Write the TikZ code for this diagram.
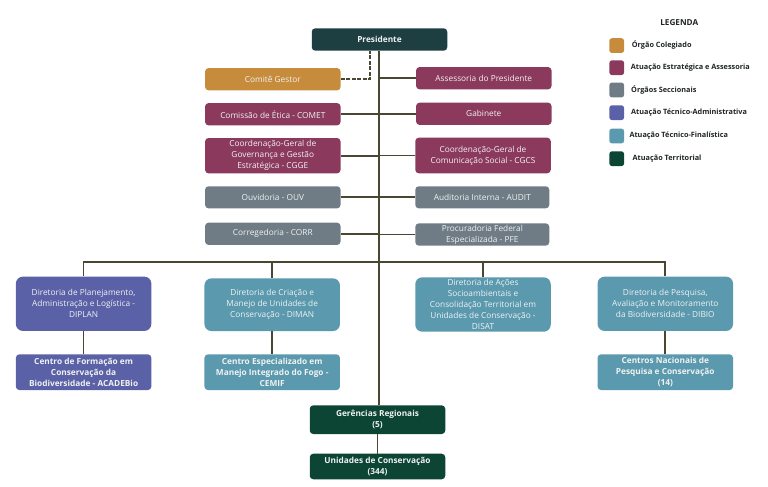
\documentclass[tikz,border=0pt]{standalone}
\usepackage{fontspec}
\setmainfont{Open Sans}
\definecolor{cpres}{HTML}{1E3F42}
\definecolor{cgold}{HTML}{C68C3B}
\definecolor{cwine}{HTML}{8B3A5D}
\definecolor{cgray}{HTML}{6F7C85}
\definecolor{cblue}{HTML}{5A61A6}
\definecolor{cteal}{HTML}{5B99AE}
\definecolor{cgreen}{HTML}{0C4534}
\definecolor{cline}{HTML}{4A4632}
\definecolor{ctext}{HTML}{F0F2F2}
\definecolor{clegend}{HTML}{1F2426}
\tikzset{
  orgbox/.style={rectangle,rounded corners=3.5,inner sep=0,minimum width=135.5,text=ctext,align=center,font=\fontsize{8.3}{11}\selectfont},
  orgbold/.style={orgbox,font=\fontsize{8.3}{11}\selectfont\bfseries},
  dirbox/.style={orgbox,rounded corners=7},
  link/.style={draw=cline,line width=1.7},
  swatch/.style={rectangle,rounded corners=2.5,inner sep=0,minimum size=14.7},
  legtext/.style={anchor=west,inner sep=0,text=clegend,font=\fontsize{7.3}{9}\selectfont\bfseries}
}
\begin{document}
\begin{tikzpicture}[x=1pt,y=-1pt]
\useasboundingbox (0,0) rectangle (768,487);

\node[orgbold,fill=cpres, minimum height=22.4] (presidente) at (379.5,39.5) {Presidente};

\node[orgbox,fill=cgold,  minimum height=22.3] (comite)     at (272.8,79.2) {Comitê Gestor};
\node[orgbox,fill=cwine,  minimum height=22.3] (assessoria) at (483.8,78.2) {Assessoria do Presidente};
\node[orgbox,fill=cwine,  minimum height=22.3] (comet)      at (272.8,114.2) {Comissão de Ética - COMET};
\node[orgbox,fill=cwine,  minimum height=22.3] (gabinete)   at (483.8,113.8) {Gabinete};
\node[orgbox,fill=cwine,  minimum height=35.4] (cgge)       at (272.8,155.7) {Coordenação-Geral de\\Governança e Gestão\\Estratégica - CGGE};
\node[orgbox,fill=cwine,  minimum height=35.6] (cgcs)       at (483,155.5) {Coordenação-Geral de\\Comunicação Social - CGCS};
\node[orgbox,fill=cgray,  minimum height=22.1] (ouv)        at (272.8,197.3) {Ouvidoria - OUV};
\node[orgbox,fill=cgray,  minimum height=22.1,minimum width=134] (audit) at (482.3,197.3) {Auditoria Interna - AUDIT};
\node[orgbox,fill=cgray,  minimum height=22.3] (corr)       at (272.8,233.8) {Corregedoria - CORR};
\node[orgbox,fill=cgray,  minimum height=22.3,minimum width=134] (pfe)   at (482.3,234.5) {Procuradoria Federal\\Especializada - PFE};

\node[dirbox,fill=cblue,  minimum height=54.3] (diplan)     at (83.6,303.8) {Diretoria de Planejamento,\\Administração e Logística -\\DIPLAN};
\node[dirbox,fill=cteal,  minimum height=52.7] (diman)      at (272.2,304.7) {Diretoria de Criação e\\Manejo de Unidades de\\Conservação - DIMAN};
\node[dirbox,fill=cteal,  minimum height=54.4] (disat)      at (483,304.5) {Diretoria de Ações\\Socioambientais e\\Consolidação Territorial em\\Unidades de Conservação -\\DISAT};
\node[dirbox,fill=cteal,  minimum height=54.3] (dibio)      at (665.3,303.8) {Diretoria de Pesquisa,\\Avaliação e Monitoramento\\da Biodiversidade - DIBIO};

\node[orgbold,fill=cblue, minimum height=35.7] (acadebio)   at (83.6,372.2) {Centro de Formação em\\Conservação da\\Biodiversidade - ACADEBio};
\node[orgbold,fill=cteal, minimum height=35.7] (cemif)      at (272.2,372.2) {Centro Especializado em\\Manejo Integrado do Fogo -\\CEMIF};
\node[orgbold,fill=cteal, minimum height=35.7] (centros)    at (665.3,372.2) {Centros Nacionais de\\Pesquisa e Conservação\\(14)};

\node[orgbold,fill=cgreen,minimum height=28.7] (gerencias)  at (377.5,419.7) {Gerências Regionais\\(5)};
\node[orgbold,fill=cgreen,minimum height=25.6] (unidades)   at (377.5,466.5) {Unidades de Conservação\\(344)};

\coordinate (bus)  at (378.7,262.3);
\coordinate (dash) at (370.3,50.7);

\draw[link] (presidente.south -| bus) -- (gerencias.north -| bus);
\draw[link] (gerencias) -- (unidades);
\draw[link,dash pattern=on 4 off 1.5] (comite.east) -| (dash);
\foreach \n in {assessoria,comet,gabinete,cgge,cgcs,ouv,audit,corr,pfe}
  \draw[link] (\n) -- (\n -| bus);
\draw[link] (diplan.north) |- (bus);
\draw[link] (dibio.north) |- (bus);
\draw[link] (diman.north) -- (diman.north |- bus);
\draw[link] (disat.north) -- (disat.north |- bus);
\draw[link] (diplan) -- (acadebio);
\draw[link] (diman) -- (cemif);
\draw[link] (dibio) -- (centros);

\node[inner sep=0,text=clegend,font=\fontsize{8.2}{9}\selectfont\bfseries] (legenda) at (679.3,23) {LEGENDA};

\node[swatch,fill=cgold]  (s_1) at (616.7,45.6) {};
\node[swatch,fill=cwine]  (s_2) at (616.7,67.7) {};
\node[swatch,fill=cgray]  (s_3) at (616.7,90) {};
\node[swatch,fill=cblue]  (s_4) at (616.7,112.7) {};
\node[swatch,fill=cteal]  (s_5) at (616.7,136) {};
\node[swatch,fill=cgreen] (s_6) at (616.7,158.7) {};

\node[legtext] (t_1) at (631.7,45.3) {Órgão Colegiado};
\node[legtext] (t_2) at (630.7,67.7) {Atuação Estratégica e Assessoria};
\node[legtext] (t_3) at (631,90) {Órgãos Seccionais};
\node[legtext] (t_4) at (631,112.3) {Atuação Técnico-Administrativa};
\node[legtext] (t_5) at (629.3,135.3) {Atuação Técnico-Finalística};
\node[legtext] (t_6) at (632.5,159) {Atuação Territorial};
\end{tikzpicture}
\end{document}
